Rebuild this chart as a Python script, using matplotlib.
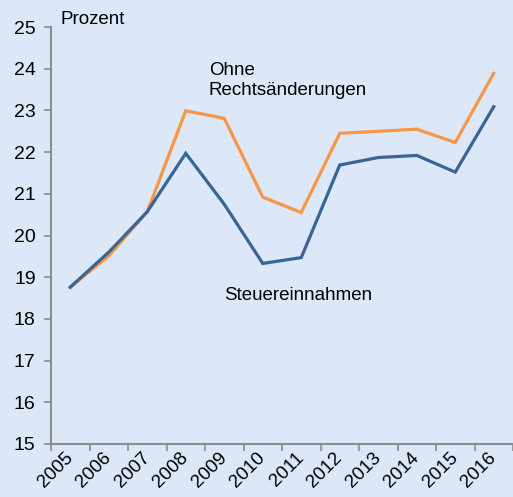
import matplotlib
matplotlib.use("Agg")
import matplotlib.pyplot as plt
import matplotlib.transforms as mtransforms
import numpy as np

years = ["2005", "2006", "2007", "2008", "2009", "2010", "2011", "2012", "2013", "2014", "2015", "2016"]
steuereinnahmen = [18.76, 19.60, 20.57, 21.97, 20.75, 19.33, 19.47, 21.69, 21.87, 21.92, 21.52, 23.09]
ohne_rechtsaenderungen = [18.76, 19.51, 20.57, 22.99, 22.81, 20.92, 20.55, 22.45, 22.50, 22.55, 22.23, 23.89]
y_ticks = [15, 16, 17, 18, 19, 20, 21, 22, 23, 24, 25]

plt.rcParams['font.family'] = ['Liberation Sans', 'DejaVu Sans']

W, H = 513, 497
bg = "#dce8f7"
fig = plt.figure(figsize=(W / 100, H / 100), dpi=100, facecolor=bg)
ax = fig.add_axes([51 / W, (H - 444) / H, 1 - 51 / W, (444 - 27) / H])
ax.set_facecolor(bg)

x = np.arange(len(years))
ax.plot(x, steuereinnahmen, color="#386596", lw=2.3, solid_joinstyle="miter", zorder=3)
ax.plot(x, ohne_rechtsaenderungen, color="#f79646", lw=2.3, solid_joinstyle="miter", zorder=2)

ax.set_ylim(15, 25)
ax.set_xlim(-0.5, (513 - 51) / 39.7 - 0.5)
ax.set_yticks(y_ticks)
ax.set_yticklabels([str(t) for t in y_ticks], fontsize=14)

ax.set_xticks(np.arange(len(years) + 1) - 0.5)
ax.set_xticklabels([])
ax.set_xticks(x, minor=True)
ax.set_xticklabels(years, minor=True, rotation=45, ha="right", va="top",
                   rotation_mode="anchor", fontsize=13.5)
ax.tick_params(axis="x", which="minor", length=0, pad=6)
ax.tick_params(axis="both", which="major", length=5, width=1.2, color="#8c8c8c", direction="out")
ax.tick_params(axis="y", pad=6)

offset = mtransforms.ScaledTranslation(-6 / 100, 3 / 100, fig.dpi_scale_trans)
for lbl in ax.get_xticklabels(minor=True):
    lbl.set_transform(lbl.get_transform() + offset)

for s in ["top", "right"]:
    ax.spines[s].set_visible(False)
for s in ["left", "bottom"]:
    ax.spines[s].set_color("#8c8c8c")
    ax.spines[s].set_linewidth(1.5)

fig.text(61 / W, 1 - 19 / H, "Prozent", fontsize=13.5, ha="left", va="center")
ax.text(3.6, 23.72, "Ohne\nRechtsänderungen", fontsize=13.5, ha="left", va="center", linespacing=1.2)
ax.text(4.0, 18.55, "Steuereinnahmen", fontsize=13.5, ha="left", va="center")

fig.savefig("out.png", dpi=100, facecolor=bg)
